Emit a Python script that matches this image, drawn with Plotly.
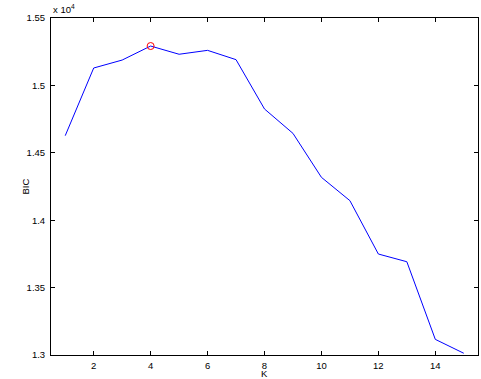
import plotly.graph_objects as go

K = list(range(1, 16))
BIC = [14627, 15129, 15188, 15292, 15231, 15260, 15191, 14825, 14644, 14318, 14145, 13749, 13692, 13116, 13013]
best_k = 4
best_bic = 15292

xticks = [2, 4, 6, 8, 10, 12, 14]
yticks = [1.3, 1.35, 1.4, 1.45, 1.5, 1.55]
ytick_labels = ["1.3", "1.35", "1.4", "1.45", "1.5", "1.55"]

FONT = "Liberation Sans, Arial"
FS = 9.5
scale = 1e4
fig = go.Figure()
fig.add_trace(go.Scatter(x=K, y=[v / scale for v in BIC], mode="lines",
                         line=dict(color="#0000ff", width=1), showlegend=False))
fig.add_trace(go.Scatter(x=[best_k], y=[best_bic / scale], mode="markers",
                         marker=dict(symbol="circle-open", color="#ff0000", size=7,
                                     line=dict(width=1, color="#ff0000")),
                         showlegend=False))

axis_common = dict(showgrid=False, zeroline=False, showline=True, linecolor="black",
                   linewidth=1, mirror="ticks", ticks="inside", ticklen=4,
                   tickcolor="black", tickwidth=1, automargin=False,
                   tickfont=dict(family=FONT, size=FS, color="black"))

fig.update_layout(
    width=481, height=379,
    margin=dict(l=51, r=3, t=18, b=24, autoexpand=False),
    paper_bgcolor="white", plot_bgcolor="white",
    xaxis=dict(range=[0.5, 15.5], tickvals=xticks, ticklabelstandoff=2, **axis_common),
    yaxis=dict(range=[1.3, 1.55], tickvals=yticks, ticktext=ytick_labels,
               ticklabelstandoff=3, **axis_common),
)
fig.add_annotation(xref="paper", yref="paper", x=0, y=1, xanchor="left", yanchor="bottom",
                   yshift=1, text="x 10<sup>4</sup>", showarrow=False,
                   font=dict(family=FONT, size=FS, color="black"))
fig.add_annotation(xref="paper", yref="paper", x=0.5, y=0, xanchor="center", yanchor="middle",
                   yshift=-18, text="K", showarrow=False,
                   font=dict(family=FONT, size=FS, color="black"))
fig.add_annotation(xref="paper", yref="paper", x=0, y=0.5, xanchor="center", yanchor="middle",
                   xshift=-26, text="BIC", textangle=-90, showarrow=False,
                   font=dict(family=FONT, size=FS, color="black"))

fig.write_html("out.html", config={"displayModeBar": False},
               post_script="document.body.style.margin='0';")
